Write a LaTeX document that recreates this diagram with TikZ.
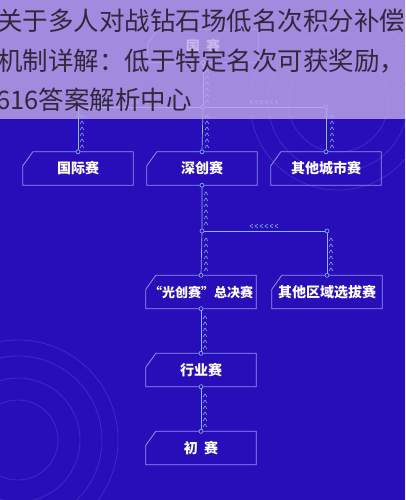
\documentclass[tikz,border=0pt]{standalone}
\usepackage{fontspec}
\newfontfamily\cjk{Noto Sans CJK SC}
\usetikzlibrary{positioning}
\definecolor{bgblue}{RGB}{40,14,184}
\definecolor{bandlav}{RGB}{190,166,232}
\definecolor{framelav}{RGB}{140,146,242}
\definecolor{linkblue}{RGB}{140,184,248}
\definecolor{titlegray}{RGB}{48,40,60}
\tikzset{
	stagebox/.style={minimum width=110pt, minimum height=33pt, inner sep=0pt, text=white, font=\cjk\bfseries\fontsize{14}{16}\selectfont},
	linkline/.style={draw=linkblue, line width=0.7pt},
	hopdot/.style={circle, draw=linkblue, fill=bgblue, line width=0.6pt, inner sep=0pt, minimum size=4pt},
	ringline/.style={draw=linkblue, opacity=0.18, line width=0.8pt},
}
% chamfered frame round a stage node
\newcommand{\stageframe}[1]{%
	\draw[draw=framelav, line width=0.8pt] ([xshift=10pt]#1.north west) -- (#1.north east) -- (#1.south east) -- (#1.south west) -- ([yshift=-14pt]#1.north west) -- cycle;}
% small up marks beside a vertical link
\newcommand{\upmarks}[2]{%
	\foreach \k in {0,...,5} \draw[linkblue, line width=0.5pt] (#1+2,#2+6*\k+3) -- (#1+4,#2+6*\k) -- (#1+6,#2+6*\k+3);}
\newcommand{\leftmarks}[2]{%
	\foreach \k in {0,...,5} \draw[linkblue, line width=0.5pt] (#1+5*\k+3,#2-2) -- (#1+5*\k,#2) -- (#1+5*\k+3,#2+2);}
\newcommand{\rightmarks}[2]{%
	\foreach \k in {0,...,5} \draw[linkblue, line width=0.5pt] (#1+5*\k,#2-2) -- (#1+5*\k+3,#2) -- (#1+5*\k,#2+2);}
\begin{document}
\begin{tikzpicture}[x=1pt, y=-1pt]
	\useasboundingbox (0,0) rectangle (405,500);
	\fill[bgblue] (0,0) rectangle (405,500);
	% faint rings
	\foreach \r in {40,62,84,100} \draw[ringline] (18,440) circle (\r);
	\foreach \r in {50,70,88} \draw[ringline] (338,102) circle (\r);

	% stages
	\node[stagebox] (guosai) at (203,46) {国\ \ 赛};
	\node[stagebox] (guoji) at (78,168.5) {国际赛};
	\node[stagebox] (shenchuang) at (202,168.5) {深创赛};
	\node[stagebox] (qitacity) at (326,168.5) {其他城市赛};
	\node[stagebox, font=\cjk\bfseries\fontsize{13}{15}\selectfont] (zongjue) at (201,292) {“光创赛”总决赛};
	\node[stagebox] (qitaregion) at (327,292) {其他区域选拔赛};
	\node[stagebox] (hangye) at (201,370) {行业赛};
	\node[stagebox] (chusai) at (201,448) {初\ \ 赛};
	\foreach \n in {guosai,guoji,shenchuang,qitacity,zongjue,qitaregion,hangye,chusai} {\stageframe{\n}}

	% links
	\coordinate (topjoin) at (guosai.south |- 0,107);
	\coordinate (leftjoin) at (guoji.north |- 0,107);
	\coordinate (rightjoin) at (qitacity.north |- 0,107);
	\coordinate (midjoin) at (shenchuang.south |- 0,231);
	\coordinate (regjoin) at (qitaregion.north |- 0,231);
	\draw[linkline] (guosai.south) -- (topjoin);
	\draw[linkline] (leftjoin) -- (rightjoin);
	\draw[linkline] (leftjoin) -- (guoji.north);
	\draw[linkline] (topjoin) -- (shenchuang.north);
	\draw[linkline] (rightjoin) -- (qitacity.north);
	\draw[linkline] (shenchuang.south) -- (midjoin) -- (zongjue.north);
	\draw[linkline] (midjoin) -- (regjoin) -- (qitaregion.north);
	\draw[linkline] (zongjue.south) -- (hangye.north);
	\draw[linkline] (hangye.south) -- (chusai.north);
	\upmarks{203}{70}
	\upmarks{78}{115}
	\upmarks{203}{115}
	\upmarks{328}{115}
	\upmarks{202}{192}
	\upmarks{202}{238}
	\upmarks{327}{238}
	\upmarks{201}{316}
	\upmarks{201}{394}
	\leftmarks{250}{102}
	\rightmarks{126}{102}
	\leftmarks{250}{226}
	\foreach \p in {guosai.south,topjoin,rightjoin,guoji.north,shenchuang.north,qitacity.north,shenchuang.south,midjoin,regjoin,zongjue.north,qitaregion.north,zongjue.south,hangye.north,hangye.south,chusai.north} \node[hopdot] at (\p) {};

	% title band
	\fill[bandlav, opacity=0.82] (0,0) rectangle (405,119);
	\node[anchor=west, inner sep=0pt, text=titlegray, font=\cjk\fontsize{25.5}{28}\selectfont] (titleone) at (-3,21) {关于多人对战钻石场低名次积分补偿};
	\node[anchor=west, inner sep=0pt, text=titlegray, font=\cjk\fontsize{25.5}{28}\selectfont] (titletwo) at (-3,61) {机制详解：低于特定名次可获奖励，};
	\node[anchor=west, inner sep=0pt, text=titlegray, font=\cjk\fontsize{25.5}{28}\selectfont] (titlethree) at (-4,100) {616答案解析中心};
\end{tikzpicture}
\end{document}
